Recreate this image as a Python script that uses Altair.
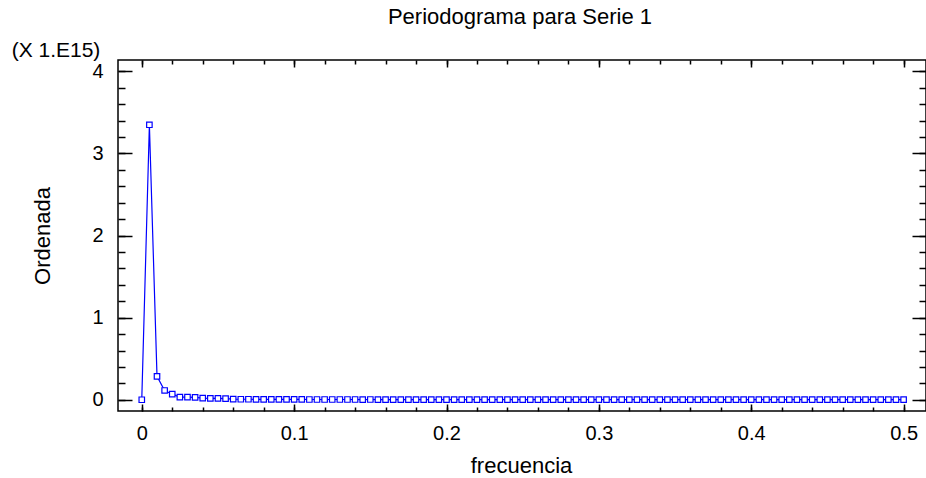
import altair as alt
import pandas as pd

# Fourier frequencies k/n for a series of length n = 200
frecuencia = [k / 200 for k in range(101)]

# Periodogram ordinates, in units of 1e15
ordenada = [
    0.000, 3.350, 0.285, 0.113, 0.068, 0.032, 0.031, 0.028, 0.019, 0.017,
    0.016, 0.014, 0.007, 0.006, 0.006, 0.005, 0.005, 0.005, 0.004, 0.004,
    0.004, 0.004, 0.003, 0.003, 0.003, 0.003, 0.003, 0.003, 0.003, 0.002,
    0.003, 0.002, 0.002, 0.002, 0.002, 0.002, 0.002, 0.002, 0.002, 0.002,
    0.002, 0.002, 0.002, 0.001, 0.002, 0.001, 0.002, 0.001, 0.001, 0.001,
    0.001, 0.001, 0.001, 0.001, 0.001, 0.001, 0.001, 0.001, 0.001, 0.001,
    0.001, 0.001, 0.001, 0.001, 0.001, 0.001, 0.001, 0.001, 0.001, 0.001,
    0.001, 0.001, 0.001, 0.001, 0.001, 0.001, 0.001, 0.001, 0.001, 0.001,
    0.001, 0.001, 0.001, 0.001, 0.001, 0.001, 0.001, 0.001, 0.001, 0.001,
    0.001, 0.001, 0.001, 0.001, 0.001, 0.001, 0.001, 0.001, 0.001, 0.001,
    0.001,
]

x_labels = [0, 0.1, 0.2, 0.3, 0.4, 0.5]
x_minor = [round(0.02 * k, 2) for k in range(26)]
y_labels = [0, 1, 2, 3, 4]
y_minor = [round(0.2 * k, 1) for k in range(21)]

df = pd.DataFrame({"f": frecuencia, "v": ordenada})

FONT = "Liberation Sans"
BLUE = "#0000ff"
W, H = 808, 351

xscale = alt.Scale(domain=[-0.0156, 0.5147], nice=False, zero=False)
yscale = alt.Scale(domain=[-0.137, 4.139], nice=False, zero=False)


def tick_axis(orient, values, size):
    # an axis that only draws ticks, shifted so they point into the plot
    return alt.Axis(
        orient=orient, values=values, tickSize=size, offset=-size,
        labels=False, domain=False, grid=False, title=None,
        ticks=True, tickColor="black", tickWidth=1.5,
    )


main_x = alt.Axis(
    orient="bottom", values=x_labels, ticks=False, domain=False, grid=False,
    labelFontSize=20, labelPadding=12, labelColor="black", labelFont=FONT,
    format="~g", title="frecuencia", titleFontSize=22, titleFont=FONT,
    titleFontWeight="normal", titleColor="black", titleX=W / 2 - 1, titleY=54,
    titleBaseline="middle", titleAlign="center",
)
main_y = alt.Axis(
    orient="left", values=y_labels, ticks=False, domain=False, grid=False,
    labelFontSize=20, labelPadding=15, labelColor="black", labelFont=FONT,
    title="Ordenada", titleFontSize=22, titleFont=FONT,
    titleFontWeight="normal", titleColor="black", titleX=-76, titleY=H / 2,
    titleAngle=-90, titleBaseline="middle", titleAlign="center",
)

line = alt.Chart(df).mark_line(color=BLUE, strokeWidth=1.2).encode(
    x=alt.X("f:Q", scale=xscale, axis=main_x),
    y=alt.Y("v:Q", scale=yscale, axis=main_y),
)

points = alt.Chart(df).mark_point(
    shape="square", filled=True, fill="white", stroke=BLUE,
    strokeWidth=1.2, size=30, opacity=1,
).encode(
    x=alt.X("f:Q", scale=xscale, axis=None),
    y=alt.Y("v:Q", scale=yscale, axis=None),
)


def ticks_layer(xorient, yorient, xvals, yvals, xsize, ysize):
    return alt.Chart(df).mark_point(opacity=0).encode(
        x=alt.X("f:Q", scale=xscale, axis=tick_axis(xorient, xvals, xsize)),
        y=alt.Y("v:Q", scale=yscale, axis=tick_axis(yorient, yvals, ysize)),
    )


major_bl = ticks_layer("bottom", "left", x_labels, y_labels, 7, 14)
minor_bl = ticks_layer("bottom", "left", x_minor, y_minor, 4, 7)
major_tr = ticks_layer("top", "right", x_labels, y_labels, 7, 14)
minor_tr = ticks_layer("top", "right", x_minor, y_minor, 4, 7)

scale_note = alt.Chart(pd.DataFrame({"t": ["(X 1.E15)"]})).mark_text(
    font=FONT, fontSize=21, color="black", align="center", baseline="middle",
).encode(text="t:N", x=alt.value(-62), y=alt.value(-9))

chart_title = alt.Chart(pd.DataFrame({"t": ["Periodograma para Serie 1"]})).mark_text(
    font=FONT, fontSize=22, color="black", align="center", baseline="middle",
).encode(text="t:N", x=alt.value(W / 2 - 2), y=alt.value(-43))

chart = alt.layer(
    line, points, major_bl, minor_bl, major_tr, minor_tr, scale_note, chart_title
).resolve_axis(x="independent", y="independent").properties(
    width=W,
    height=H,
    padding={"left": 118, "top": 60, "right": 0, "bottom": 67},
    autosize=alt.AutoSizeParams(type="none"),
).configure(font=FONT, background="white").configure_view(
    stroke="black", strokeWidth=1.5
)

chart.save("out.html", embed_options={"renderer": "svg", "actions": False})
